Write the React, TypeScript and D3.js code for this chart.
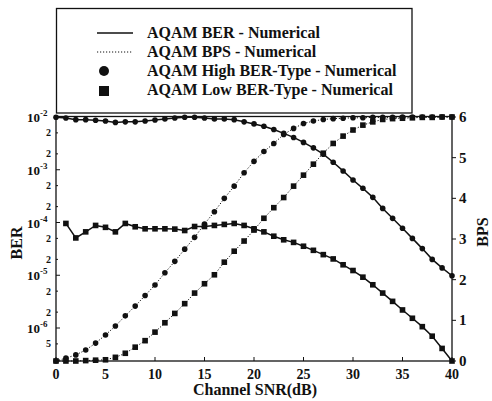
import React from "react";
import * as d3 from "d3";

// channel SNR in dB
const snr = [0, 1, 2, 3, 4, 5, 6, 7, 8, 9, 10, 11, 12, 13, 14, 15, 16, 17, 18, 19, 20,
  21, 22, 23, 24, 25, 26, 27, 28, 29, 30, 31, 32, 33, 34, 35, 36, 37, 38, 39, 40];

// high BER-type: BER (solid, circles)
const highBer = [9.9e-3, 9.6e-3, 8.9e-3, 8.9e-3, 8.65e-3, 8.4e-3, 7.9e-3, 8.1e-3, 8.1e-3, 8.4e-3,
  8.8e-3, 9.2e-3, 9.6e-3, 9.9e-3, 9.9e-3, 9.6e-3, 9.2e-3, 9.2e-3, 8.9e-3, 8.1e-3,
  7.4e-3, 6.7e-3, 5.8e-3, 4.9e-3, 4.1e-3, 3.3e-3, 2.6e-3, 1.97e-3, 1.39e-3, 9.5e-4,
  6.4e-4, 4.45e-4, 3.0e-4, 1.85e-4, 1.2e-4, 7.8e-5, 5.0e-5, 3.2e-5, 2.0e-5, 1.38e-5, 9.8e-6];

// low BER-type: BER (solid, squares), no point at 0 dB
const lowBer = [null, 9.6e-5, 5.1e-5, 6.65e-5, 8.8e-5, 8.1e-5, 6.65e-5, 9.6e-5, 8.3e-5, 7.6e-5,
  7.6e-5, 7.6e-5, 7.5e-5, 7.05e-5, 8.4e-5, 8.4e-5, 8.8e-5, 9.2e-5, 9.6e-5, 8.8e-5,
  7.6e-5, 6.65e-5, 5.5e-5, 4.7e-5, 4.2e-5, 3.55e-5, 2.97e-5, 2.46e-5, 2.04e-5, 1.58e-5,
  1.23e-5, 9.2e-6, 6.6e-6, 4.6e-6, 3.2e-6, 2.2e-6, 1.53e-6, 1.06e-6, 7.0e-7, 4.1e-7, 2.37e-7];

// high BER-type: BPS (dotted, circles)
const highBps = [0, 0.07, 0.15, 0.27, 0.44, 0.64, 0.86, 1.11, 1.35, 1.61,
  1.87, 2.17, 2.45, 2.75, 3.04, 3.37, 3.67, 4.0, 4.3, 4.63,
  4.91, 5.15, 5.35, 5.57, 5.72, 5.84, 5.9, 5.94, 5.96, 5.97,
  5.98, 5.98, 5.99, 5.99, 5.99, 6, 6, 6, 6, 6, 6];

// low BER-type: BPS (dotted, squares)
const lowBps = [0, 0, 0, 0.01, 0.02, 0.03, 0.09, 0.19, 0.34, 0.5,
  0.71, 0.94, 1.17, 1.41, 1.67, 1.9, 2.12, 2.43, 2.7, 2.95,
  3.22, 3.51, 3.77, 4.02, 4.3, 4.57, 4.84, 5.11, 5.35, 5.53,
  5.68, 5.8, 5.88, 5.94, 5.96, 5.97, 5.98, 5.99, 5.99, 6, 6];

const xTicks = [0, 5, 10, 15, 20, 25, 30, 35, 40];
const berDecades = [-2, -3, -4, -5, -6];
const berMinor = [5e-3, 2e-3, 5e-4, 2e-4, 5e-5, 2e-5, 5e-6, 2e-6, 5e-7];
const bpsTicks = [0, 1, 2, 3, 4, 5, 6];

const legendItems = [
  "AQAM BER - Numerical",
  "AQAM BPS - Numerical",
  "AQAM High BER-Type - Numerical",
  "AQAM Low BER-Type - Numerical",
];

const W = 492;
const H = 401;
const FONT = "'Liberation Serif', 'Times New Roman', serif";

export default function App() {
  const x = d3.scaleLinear([0, 40], [56, 452]);
  const yBer = d3.scaleLog([2.37e-7, 1e-2], [361, 117]);
  const yBps = d3.scaleLinear([0, 6], [361, 117]);

  const pts = (vals: (number | null)[], y: (v: number) => number) =>
    snr.map((s, i) => ({ s, v: vals[i] })).filter(d => d.v != null)
      .map(d => [x(d.s), y(d.v as number)] as [number, number]);

  const line = d3.line();
  const hb = pts(highBer, yBer);
  const lb = pts(lowBer, yBer);
  const hp = pts(highBps, yBps);
  const lp = pts(lowBps, yBps);

  const circles = (p: [number, number][], key: string) =>
    p.map(([cx, cy], i) => <circle key={key + i} cx={cx} cy={cy} r={2.8} fill="#111" />);
  const squares = (p: [number, number][], key: string) =>
    p.map(([cx, cy], i) => <rect key={key + i} x={cx - 2.8} y={cy - 2.8} width={5.6} height={5.6} fill="#111" />);

  return (
    <svg width={W} height={H} style={{ position: "absolute", left: 0, top: 0, background: "#fff" }}
      fontFamily={FONT} fontWeight="bold">
      {/* plot frame */}
      <rect x={56} y={116.5} width={396} height={244.5} fill="none" stroke="#111" strokeWidth={1.3} />

      {/* x ticks */}
      {xTicks.map(t => (
        <g key={"x" + t}>
          <line x1={x(t)} x2={x(t)} y1={361} y2={357} stroke="#111" />
          <text x={x(t)} y={379} fontSize={14} textAnchor="middle" fill="#111">{t}</text>
        </g>
      ))}
      <text x={255} y={395} fontSize={16} textAnchor="middle" fill="#111">Channel SNR(dB)</text>

      {/* left BER axis */}
      {berDecades.map(e => {
        const yy = yBer(Math.pow(10, e));
        return (
          <g key={"d" + e}>
            <line x1={56} x2={60} y1={yy} y2={yy} stroke="#111" />
            <text x={40} y={yy + 5} fontSize={13} textAnchor="end" fill="#111">10</text>
            <text x={40} y={yy - 1} fontSize={9} fill="#111">{"-" + Math.abs(e)}</text>
          </g>
        );
      })}
      {berMinor.map(v => (
        <g key={"m" + v}>
          <line x1={56} x2={58} y1={yBer(v)} y2={yBer(v)} stroke="#111" />
          <text x={48.5} y={yBer(v) + 3.5} fontSize={10} textAnchor="middle" fill="#111">
            {String(v).startsWith("5") ? "5" : "2"}
          </text>
        </g>
      ))}
      <text transform="translate(22,243) rotate(-90)" fontSize={16} textAnchor="middle" fill="#111">BER</text>

      {/* right BPS axis */}
      {bpsTicks.map(t => (
        <g key={"b" + t}>
          <line x1={452} x2={456} y1={yBps(t)} y2={yBps(t)} stroke="#111" />
          <text x={459} y={yBps(t) + 5} fontSize={15} fill="#111">{t}</text>
        </g>
      ))}
      <text transform="translate(488,232) rotate(-90)" fontSize={16} textAnchor="middle" fill="#111">BPS</text>

      {/* curves */}
      <path d={line(hp) || ""} fill="none" stroke="#111" strokeWidth={1} strokeDasharray="1.2,1.8" />
      <path d={line(lp) || ""} fill="none" stroke="#111" strokeWidth={1} strokeDasharray="1.2,1.8" />
      <path d={line(hb) || ""} fill="none" stroke="#111" strokeWidth={1.5} />
      <path d={line(lb) || ""} fill="none" stroke="#111" strokeWidth={1.5} />
      {circles(hp, "hp")}
      {squares(lp, "lp")}
      {circles(hb, "hb")}
      {squares(lb, "lb")}

      {/* legend */}
      <rect x={56.5} y={8.5} width={355.5} height={104.5} fill="#fff" stroke="#111" strokeWidth={1.3} />
      <line x1={97} x2={133} y1={33} y2={33} stroke="#111" strokeWidth={1.5} />
      <line x1={97} x2={133} y1={52} y2={52} stroke="#111" strokeWidth={1} strokeDasharray="1.2,1.8" />
      <circle cx={104} cy={71} r={5} fill="#111" />
      <rect x={99} y={86} width={10} height={10} fill="#111" />
      {legendItems.map((t, i) => (
        <text key={t} x={147} y={38 + i * 19} fontSize={16} fill="#111">{t}</text>
      ))}
    </svg>
  );
}
